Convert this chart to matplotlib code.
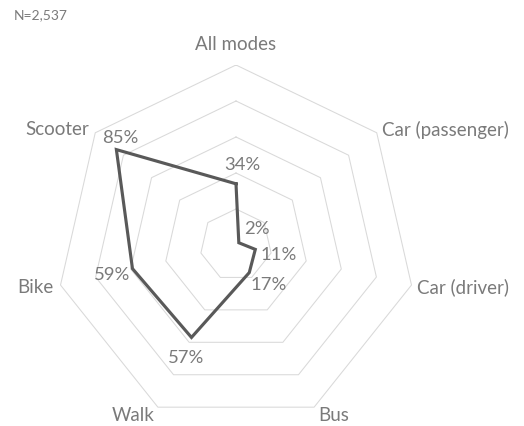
# radar chart: share by travel mode
import numpy as np
import matplotlib.pyplot as plt

categories = ["All modes", "Car (passenger)", "Car (driver)", "Bus", "Walk", "Bike", "Scooter"]
values = [34, 2, 11, 17, 57, 59, 85]
rings = [20, 40, 60, 80, 100]
sample_note = "N=2,537"

# label layout (pixel offsets from the point / outer vertex)
value_offsets = [(6, 20), (18, 15), (23, -5), (19, -11), (-5, -20), (-20, -5), (4, 13)]
cat_layout = [
    ("center", "center", (0, 21)),
    ("left", "center", (5, 4)),
    ("left", "center", (6, -1)),
    ("left", "center", (4, -7)),
    ("right", "center", (-3, -7)),
    ("right", "center", (-7, -1)),
    ("right", "center", (-6, 4)),
]

TEXT = "#7a7a7a"
LINE = "#595959"
GRID = "#d9d9d9"

plt.rcParams['font.family'] = ['Lato', 'DejaVu Sans']

n = len(categories)
theta = np.arange(n) * 2 * np.pi / n
sx, sy = np.sin(theta), np.cos(theta)

fig = plt.figure(figsize=(5.24, 4.27), dpi=100)
# centre of radar at (236, 246) px, outer radius 180 px
ax = fig.add_axes([(236 - 180) / 524, (427 - 246 - 180) / 427, 360 / 524, 360 / 427])
ax.set_xlim(-100, 100)
ax.set_ylim(-100, 100)
ax.axis("off")

for r in rings:
    ax.plot(np.append(sx, sx[0]) * r, np.append(sy, sy[0]) * r, color=GRID, lw=0.75, zorder=1)

v = np.array(values, dtype=float)
ax.plot(np.append(sx * v, sx[0] * v[0]), np.append(sy * v, sy[0] * v[0]),
        color=LINE, lw=2.25, solid_joinstyle="miter", zorder=3)

for i, val in enumerate(values):
    ax.annotate(f"{val}%", (sx[i] * val, sy[i] * val), xytext=value_offsets[i],
                textcoords="offset pixels", ha="center", va="center",
                fontsize=13.3, color=TEXT, zorder=4, annotation_clip=False)

top = max(rings)
for i, cat in enumerate(categories):
    ha, va, off = cat_layout[i]
    ax.annotate(cat, (sx[i] * top, sy[i] * top), xytext=off, textcoords="offset pixels",
                ha=ha, va=va, fontsize=13.5, color=TEXT, annotation_clip=False)

fig.text(14 / 524, 1 - 15 / 427, sample_note, ha="left", va="center", fontsize=10, color=TEXT)

fig.savefig("out.png", dpi=100)
